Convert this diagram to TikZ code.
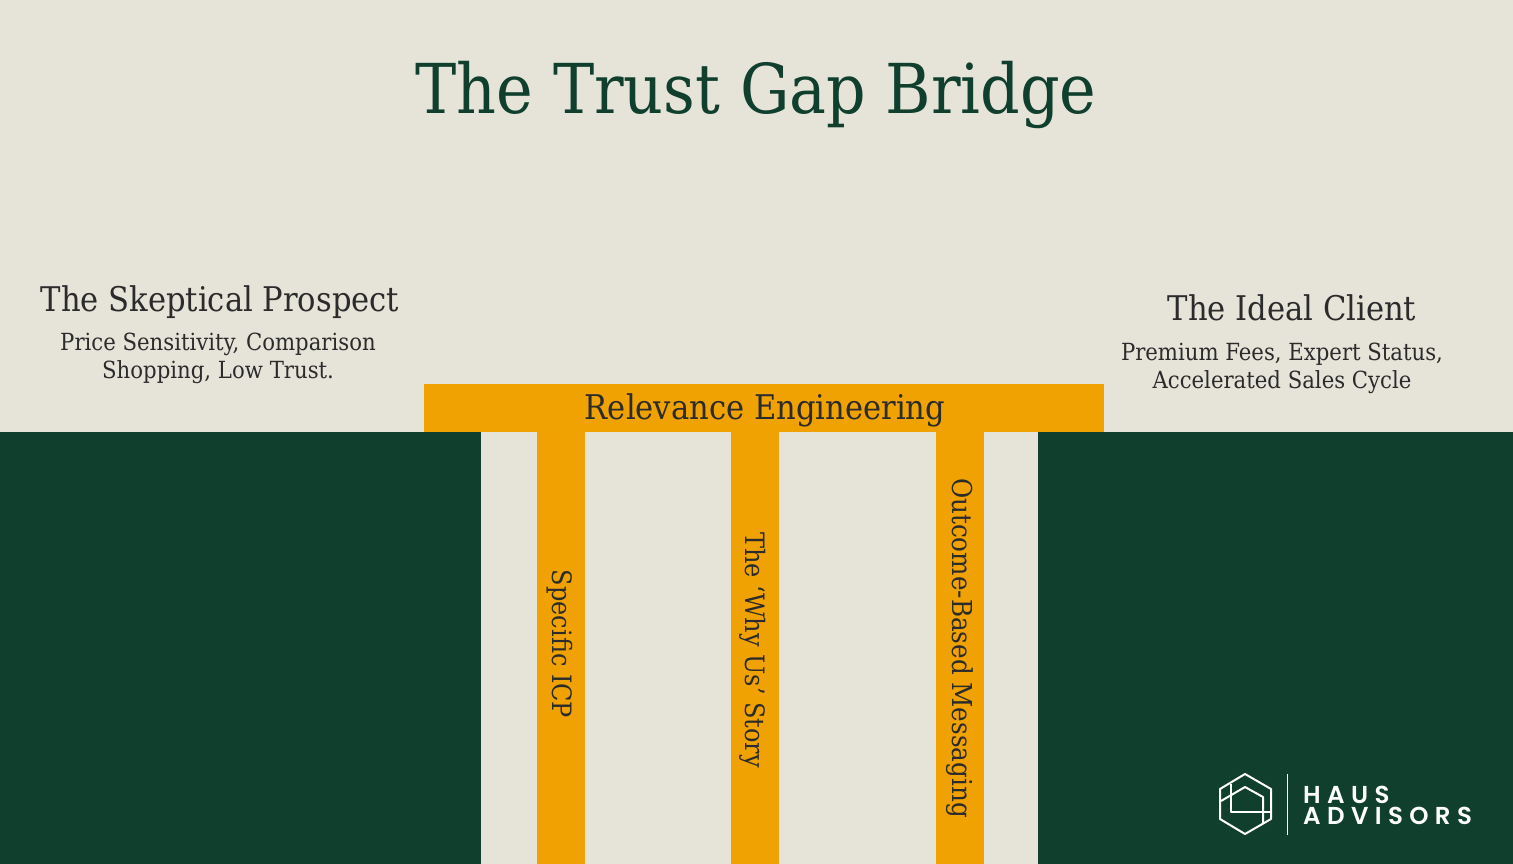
\documentclass[tikz,border=0pt]{standalone}
\usepackage{xcolor}
\usepackage{fontspec}
\setmainfont{DejaVu Serif Condensed}
\newfontfamily\logofont[LetterSpace=26]{Poppins SemiBold}
\definecolor{sand}{HTML}{E6E4D9}
\definecolor{darkgreen}{HTML}{103F2E}
\definecolor{amber}{HTML}{F0A202}
\definecolor{darkgray}{HTML}{2B2B2B}
\tikzset{
  block/.style={fill=#1, inner sep=0pt, outer sep=0pt, anchor=north west},
  pillartext/.style={rotate=-90, text=darkgray, inner sep=0pt, font=\fontsize{26.7}{30}\selectfont},
  headtext/.style={text=darkgray, inner sep=0pt, font=\fontsize{34}{40}\selectfont},
  subtext/.style={text=darkgray, inner sep=0pt, align=center, font=\fontsize{23.6}{28}\selectfont},
  logoline/.style={draw=white, line width=2pt, line join=round}
}
\begin{document}
\begin{tikzpicture}[x=1pt, y=-1pt]
\useasboundingbox (0,0) rectangle (1513,864);
\fill[sand] (0,0) rectangle (1513,864);

\node[text=darkgreen, inner sep=0pt, font=\fontsize{68.8}{80}\selectfont] (title) at (756,95) {The Trust Gap Bridge};

% left and right text
\node[headtext] (prospect) at (220,302) {The Skeptical Prospect};
\node[subtext] (prospectsub) at (218,358) {Price Sensitivity, Comparison\\Shopping, Low Trust.};
\node[headtext] (client) at (1292,308) {The Ideal Client};
\node[subtext] (clientsub) at (1282,368) {Premium Fees, Expert Status,\\Accelerated Sales Cycle};

% ground
\node[block=darkgreen, minimum width=481pt, minimum height=432pt] (leftground) at (0,432) {};
\node[block=darkgreen, minimum width=475pt, minimum height=432pt] (rightground) at (1038,432) {};

% bridge
\node[block=amber, minimum width=680pt, minimum height=48pt] (deck) at (424,384) {};
\node[block=amber, minimum width=48pt, minimum height=432pt] (pillarone) at (537,432) {};
\node[block=amber, minimum width=48pt, minimum height=432pt] (pillartwo) at (731,432) {};
\node[block=amber, minimum width=48pt, minimum height=432pt] (pillarthree) at (936,432) {};

\node[headtext] (decktext) at (765,410) {Relevance Engineering};
\node[pillartext] (icp) at (560,644) {Specific ICP};
\node[pillartext] (story) at (753,650) {The ‘Why Us’ Story};
\node[pillartext, font=\fontsize{27.4}{30}\selectfont] (messaging) at (960,648) {Outcome-Based Messaging};

% logo
\draw[logoline] (1245,774) -- (1271,789) -- (1271,819) -- (1245,834) -- (1220,819) -- (1220,789) -- cycle;
\draw[logoline] (1221,801) -- (1245,787) -- (1263,797) -- (1263,823);
\draw[logoline] (1231,784) -- (1231,812) -- (1271,812);
\draw[white, line width=1pt] (1287,774) -- (1287,835);
\node[text=white, anchor=west, inner sep=0pt, align=left, font=\logofont\fontsize{24.5}{21}\selectfont] (logotext) at (1303,805) {HAUS\\ADVISORS};
\end{tikzpicture}
\end{document}
